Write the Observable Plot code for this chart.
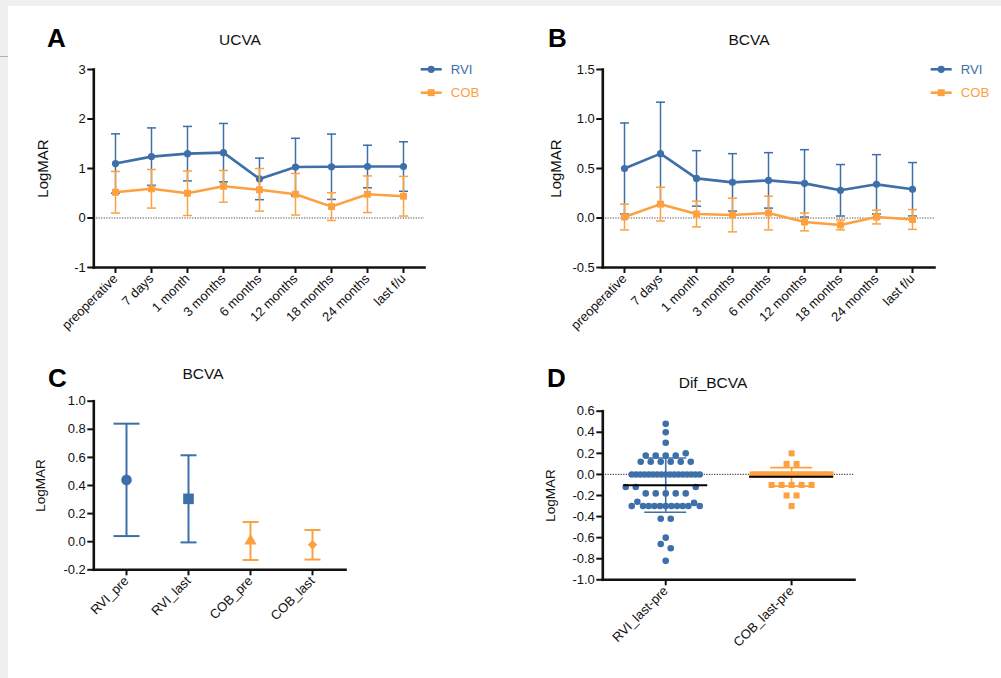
<!DOCTYPE html>
<html><head><meta charset="utf-8">
<script src="https://cdn.jsdelivr.net/npm/d3@7"></script>
<script src="https://cdn.jsdelivr.net/npm/@observablehq/plot@0.6"></script>
<style>
html,body{margin:0;padding:0;background:#f0efee;}
#page{position:relative;width:1001px;height:678px;overflow:hidden;}
#sheet{position:absolute;left:8px;top:6px;right:0;bottom:0;background:#fff;}
</style></head><body>
<div id="page"><div id="sheet"></div></div>
<script>
// ---------------- data ----------------
const timepoints = ["preoperative","7 days","1 month","3 months","6 months","12 months","18 months","24 months","last f/u"];
const seriesNames = ["RVI","COB"];
// Panel A: UCVA (mean, SD)
const ucvaRviMean = [1.10, 1.24, 1.30, 1.32, 0.79, 1.03, 1.035, 1.04, 1.04];
const ucvaRviSd   = [0.60, 0.58, 0.55, 0.59, 0.42, 0.58, 0.66, 0.43, 0.50];
const ucvaCobMean = [0.52, 0.59, 0.50, 0.64, 0.57, 0.48, 0.23, 0.48, 0.44];
const ucvaCobSd   = [0.42, 0.39, 0.45, 0.32, 0.43, 0.42, 0.28, 0.37, 0.40];
// Panel B: BCVA (mean, SD)
const bcvaRviMean = [0.50, 0.65, 0.40, 0.36, 0.38, 0.35, 0.28, 0.34, 0.29];
const bcvaRviSd   = [0.46, 0.52, 0.28, 0.29, 0.28, 0.34, 0.26, 0.30, 0.27];
const bcvaCobMean = [0.01, 0.14, 0.04, 0.03, 0.05, -0.04, -0.07, 0.01, -0.015];
const bcvaCobSd   = [0.13, 0.17, 0.13, 0.17, 0.17, 0.09, 0.05, 0.07, 0.10];
// Panel C: BCVA pre / last
const groupsC = ["RVI_pre","RVI_last","COB_pre","COB_last"];
const meanC = [0.44, 0.305, 0.005, -0.022];
const sdC   = [0.40, 0.31, 0.135, 0.105];
// Panel D: Dif_BCVA individual differences
const difGroups = ["RVI_last-pre","COB_last-pre"];
const rviDif = [0.48, 0.40, 0.30,
  0.18, 0.18, 0.18, 0.18, 0.20,
  0.12, 0.12, 0.12, 0.12, 0.12, 0.12,
  0,0,0,0,0,0,0,0,0,0,0,0,0,0,0,0,0,
  -0.12, -0.12, -0.12,
  -0.18, -0.18, -0.18, -0.18, -0.18,
  -0.30, -0.30, -0.30, -0.30, -0.30, -0.30, -0.30, -0.30, -0.30, -0.26, -0.27, -0.30, -0.30,
  -0.42, -0.42,
  -0.60, -0.66, -0.70, -0.82];
const cobDif = [0.20, 0.10, 0.10,
  0,0,0,0,0,0,0,0,0,0,0,0,0,0,0,0,0,0,0,0,0,0,0,0,
  -0.10, -0.10, -0.10, -0.10, -0.10,
  -0.20, -0.20,
  -0.30];
const panelLetters = ["A","B","C","D"];
const panelTitles = ["UCVA","BCVA","BCVA","Dif_BCVA"];
const yLabel = "LogMAR";

// ---------------- style ----------------
const BLUE = "#3d6fa8", ORANGE = "#fda040";
const FONT = "'Liberation Sans', Arial, Helvetica, sans-serif";
const page = document.getElementById("page");
const plotStyle = {background: "transparent", color: "#111", fontFamily: FONT, fontSize: "13px", overflow: "visible"};
const seriesStyle = [
  {color: BLUE, symbol: "circle", r: 3.6},
  {color: ORANGE, symbol: "square", r: 3.9}
];
// horizontal error-bar cap drawn as a dot symbol; half-width equals r
const capSymbol = {draw(ctx, size) { const h = Math.sqrt(size / Math.PI); ctx.moveTo(-h, 0); ctx.lineTo(h, 0); }};

function place(svg, left, top) {
  svg.style.position = "absolute";
  svg.style.left = left + "px";
  svg.style.top = top + "px";
  page.appendChild(svg);
}

function axisMarks(yTicks, yFmt, xOpts = {}) {
  return [
    Plot.axisY({ticks: yTicks, tickFormat: yFmt, tickSize: 6, tickPadding: 2, strokeWidth: 2, label: null}),
    Plot.axisX({tickSize: 6, tickPadding: 3, tickRotate: -45, strokeWidth: 2, label: null, ...xOpts}),
    Plot.frame({anchor: "left", strokeWidth: 2.6}),
    Plot.frame({anchor: "bottom", strokeWidth: 2.6})
  ];
}
const zeroLine = () => Plot.ruleY([0], {stroke: "#555", strokeWidth: 1.2, strokeDasharray: "1.3 1.3"});
const yTitle = (dx, size) => Plot.text([yLabel], {frameAnchor: "left", dx, rotate: -90, fontSize: size, textAnchor: "middle", lineAnchor: "middle", fill: "#111"});

function linePanel(means, sds, yDomain, yTicks, yFmt, layout) {
  const marks = [zeroLine()];
  seriesNames.forEach((name, k) => {
    const st = seriesStyle[k];
    const rows = timepoints.map((t, i) => ({t, m: means[k][i], sd: sds[k][i]}));
    marks.push(
      Plot.ruleX(rows, {x: "t", y1: d => d.m - d.sd, y2: d => d.m + d.sd, stroke: st.color, strokeWidth: 1.5}),
      Plot.dot(rows, {x: "t", y: d => d.m + d.sd, symbol: capSymbol, r: 4.5, stroke: st.color, strokeWidth: 1.5}),
      Plot.dot(rows, {x: "t", y: d => d.m - d.sd, symbol: capSymbol, r: 4.5, stroke: st.color, strokeWidth: 1.5}),
      Plot.line(rows, {x: "t", y: "m", stroke: st.color, strokeWidth: 2.6}),
      Plot.dot(rows, {x: "t", y: "m", fill: st.color, r: st.r, symbol: st.symbol})
    );
  });
  const svg = Plot.plot({
    width: layout.width, height: layout.height,
    marginLeft: layout.ml, marginRight: layout.mr, marginTop: layout.mt, marginBottom: layout.mb,
    x: {type: "point", domain: timepoints, padding: 0.5},
    y: {domain: yDomain},
    style: plotStyle,
    marks: [...marks, yTitle(layout.labelDx, 15), ...axisMarks(yTicks, yFmt)]
  });
  place(svg, layout.left, layout.top);
}

const fmt1 = d => d.toFixed(1);
const fmt0 = d => d.toFixed(0);

// Panel A
linePanel([ucvaRviMean, ucvaCobMean], [ucvaRviSd, ucvaCobSd], [-1, 3], [-1, 0, 1, 2, 3], fmt0,
  {left: 0, top: 50, width: 480, height: 300, ml: 93.3, mr: 56, mt: 19, mb: 83, labelDx: -51});
// Panel B
linePanel([bcvaRviMean, bcvaCobMean], [bcvaRviSd, bcvaCobSd], [-0.5, 1.5], [-0.5, 0, 0.5, 1, 1.5], fmt1,
  {left: 510, top: 50, width: 480, height: 300, ml: 92.3, mr: 56, mt: 19, mb: 83, labelDx: -46.5});

// Panel C
{
  const cStyle = [
    {color: BLUE, symbol: "circle", r: 5.3, cap: 13},
    {color: BLUE, symbol: "square", r: 6.0, cap: 8},
    {color: ORANGE, symbol: "triangle", r: 4.6, cap: 8},
    {color: ORANGE, symbol: "diamond2", r: 4.3, cap: 8}
  ];
  const marks = [];
  groupsC.forEach((g, i) => {
    const st = cStyle[i];
    const row = [{g, m: meanC[i], sd: sdC[i]}];
    marks.push(
      Plot.ruleX(row, {x: "g", y1: d => d.m - d.sd, y2: d => d.m + d.sd, stroke: st.color, strokeWidth: 2}),
      Plot.dot(row, {x: "g", y: d => d.m + d.sd, symbol: capSymbol, r: st.cap, stroke: st.color, strokeWidth: 2}),
      Plot.dot(row, {x: "g", y: d => d.m - d.sd, symbol: capSymbol, r: st.cap, stroke: st.color, strokeWidth: 2}),
      Plot.dot(row, {x: "g", y: "m", fill: st.color, r: st.r, symbol: st.symbol})
    );
  });
  const svg = Plot.plot({
    width: 400, height: 290, marginLeft: 93.3, marginRight: 55, marginTop: 20.7, marginBottom: 100.7,
    x: {type: "point", domain: groupsC, padding: 0.5},
    y: {domain: [-0.2, 1.0]},
    style: plotStyle,
    marks: [...marks, yTitle(-53, 13.5), ...axisMarks(d3.range(-0.2, 1.01, 0.2), fmt1)]
  });
  place(svg, 0, 380);
}

// Panel D
{
  const W = 400, H = 290, ML = 92.3, MR = 56, MT = 30.7, MB = 90.7;
  const yDom = [-1.0, 0.6];
  const ppuX = (W - ML - MR) / 2;
  const ppuY = (H - MT - MB) / (yDom[1] - yDom[0]);
  const dStyle = [
    {color: BLUE, symbol: "circle", r: 3.3, maxW: 68},
    {color: ORANGE, symbol: "square", r: 3.4, maxW: 78}
  ];
  function swarm(values, gi, maxW, diam) {
    const pts = values.map((v, i) => ({v, i}));
    const sorted = [...pts].sort((a, b) => a.v - b.v);
    const rows = [];
    let cur = null;
    for (const p of sorted) {
      if (!cur || p.v - cur.base > 0.045) { cur = {base: p.v, pts: []}; rows.push(cur); }
      cur.pts.push(p);
    }
    rows.forEach(r => r.pts.sort((a, b) => a.i - b.i));
    const placed = [];
    rows.slice().sort((a, b) => b.pts.length - a.pts.length).forEach(row => {
      const n = row.pts.length;
      const s = n > 1 ? Math.min(10, maxW / (n - 1)) : 10;
      const cands = [];
      if (n % 2) { cands.push(0); for (let k = 1; k < 40; k++) cands.push(-k * s, k * s); }
      else { for (let k = 0; k < 40; k++) cands.push(-(k + 0.5) * s, (k + 0.5) * s); }
      const used = new Set();
      for (const p of row.pts) {
        for (let c = 0; c < cands.length; c++) {
          if (used.has(c)) continue;
          const dx = cands[c];
          const hit = placed.some(q => q.row !== row && Math.hypot(q.dx - dx, (q.v - p.v) * ppuY) < diam);
          if (!hit) { used.add(c); p.dx = dx; p.row = row; placed.push(p); break; }
        }
      }
    });
    return pts.map(p => ({x: gi + p.dx / ppuX, v: p.v}));
  }
  const marks = [zeroLine()];
  const sets = [rviDif, cobDif];
  sets.forEach((vals, gi) => {
    const st = dStyle[gi];
    marks.push(Plot.dot(swarm(vals, gi, st.maxW, st.r * 2), {x: "x", y: "v", fill: st.color, r: st.r, symbol: st.symbol}));
  });
  sets.forEach((vals, gi) => {
    const st = dStyle[gi];
    const s = [{g: gi, m: d3.mean(vals), sd: d3.deviation(vals)}];
    const cap = 21 / ppuX, half = 42 / ppuX;
    marks.push(
      Plot.ruleX(s, {x: "g", y1: d => d.m - d.sd, y2: d => d.m + d.sd, stroke: st.color, strokeWidth: 1.6}),
      Plot.ruleY(s, {y: d => d.m + d.sd, x1: d => d.g - cap, x2: d => d.g + cap, stroke: st.color, strokeWidth: 1.6}),
      Plot.ruleY(s, {y: d => d.m - d.sd, x1: d => d.g - cap, x2: d => d.g + cap, stroke: st.color, strokeWidth: 1.6}),
      Plot.ruleY(s, {y: "m", x1: d => d.g - half, x2: d => d.g + half, stroke: "#000", strokeWidth: 2})
    );
  });
  const svg = Plot.plot({
    width: W, height: H, marginLeft: ML, marginRight: MR, marginTop: MT, marginBottom: MB,
    x: {domain: [-0.5, 1.5]},
    y: {domain: yDom},
    style: plotStyle,
    marks: [...marks, yTitle(-52, 13.5),
      ...axisMarks(d3.range(-1.0, 0.61, 0.2), fmt1, {ticks: [0, 1], tickFormat: i => difGroups[i]})]
  });
  place(svg, 510, 380);
}

// ---------------- overlay: panel letters, titles, legends ----------------
{
  const ov = d3.create("svg").attr("width", 1001).attr("height", 678)
    .style("position", "absolute").style("left", "0px").style("top", "0px").style("pointer-events", "none");
  ov.append("line").attr("x1", 0).attr("x2", 8).attr("y1", 56.5).attr("y2", 56.5).attr("stroke", "#b0b0b0");
  const letterPos = [[47, 46.7], [548, 46.7], [48, 386.7], [547, 386.7]];
  const titlePos = [[240, 45.3], [749, 45.3], [203, 378.5], [713, 388.3]];
  panelLetters.forEach((t, i) => {
    ov.append("text").attr("x", letterPos[i][0]).attr("y", letterPos[i][1]).text(t)
      .attr("font-family", FONT).attr("font-weight", "bold").attr("font-size", 26).attr("fill", "#000");
  });
  panelTitles.forEach((t, i) => {
    ov.append("text").attr("x", titlePos[i][0]).attr("y", titlePos[i][1]).text(t)
      .attr("font-family", FONT).attr("font-size", 15.5).attr("text-anchor", "middle").attr("fill", "#111");
  });
  const legendPos = [[420.7, 69.3], [930.7, 69.3]];
  legendPos.forEach(([lx, ly]) => {
    seriesNames.forEach((name, k) => {
      const st = seriesStyle[k];
      const y = ly + k * 23.4;
      ov.append("line").attr("x1", lx).attr("x2", lx + 21).attr("y1", y).attr("y2", y)
        .attr("stroke", st.color).attr("stroke-width", 2.6);
      ov.append("path").attr("transform", `translate(${lx + 10.5},${y})`)
        .attr("d", d3.symbol(st.symbol === "circle" ? d3.symbolCircle : d3.symbolSquare, Math.PI * st.r * st.r)())
        .attr("fill", st.color);
      ov.append("text").attr("x", lx + 30).attr("y", y + 4.7).text(name)
        .attr("font-family", FONT).attr("font-size", 13.2).attr("fill", st.color);
    });
  });
  page.appendChild(ov.node());
}
</script>
</body></html>
